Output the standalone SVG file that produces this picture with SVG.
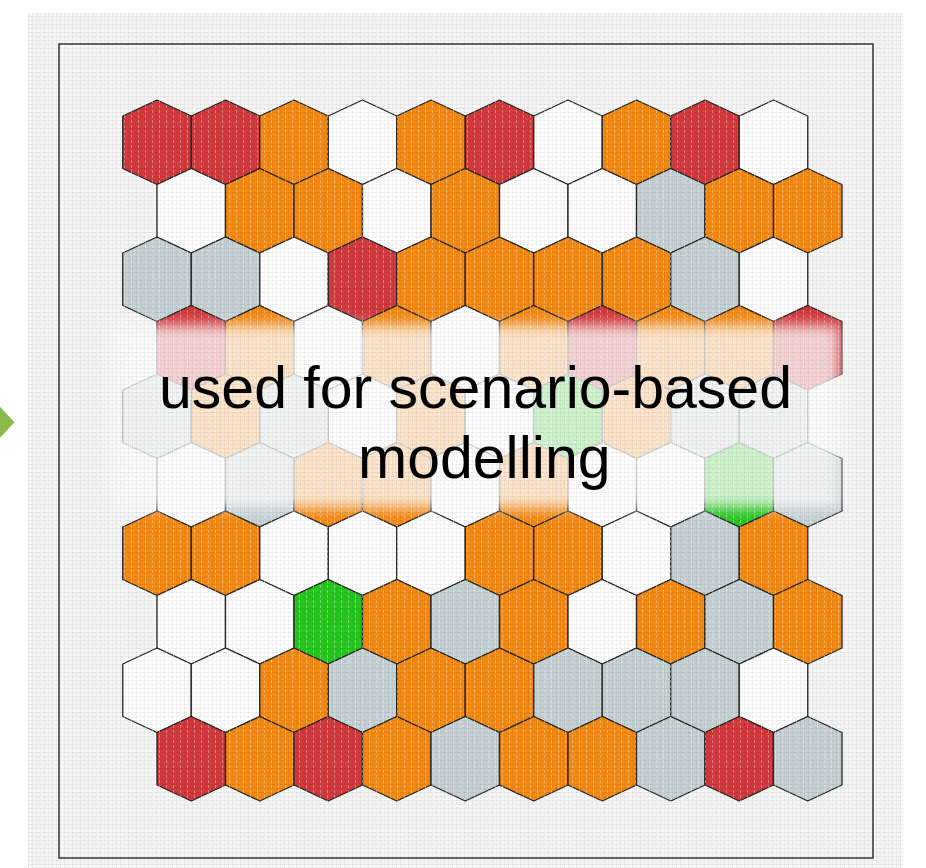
<svg xmlns="http://www.w3.org/2000/svg" xmlns:xlink="http://www.w3.org/1999/xlink" width="926" height="868" viewBox="0 0 926 868">
  <style>
    .hx { stroke: #262626; stroke-width: 1.3; stroke-linejoin: round; }
    .R { fill: #D5393D; }
    .O { fill: #F78A12; }
    .G { fill: #C7D2D4; }
    .W { fill: #FFFFFF; }
    .N { fill: #25C91E; }
    .label { font-family: "Liberation Sans", Arial, sans-serif; font-size: 59px; fill: #000000; }
  </style>
  <defs>
    <path id="h" d="M0,-42.25 L34.25,-26.25 L34.25,26.25 L0,42.25 L-34.25,26.25 L-34.25,-26.25 Z"/>
    <pattern id="linen" width="4" height="4" patternUnits="userSpaceOnUse">
      <rect x="0" y="0" width="4" height="1" fill="#000" opacity="0.05"/>
      <rect x="0" y="0" width="1" height="4" fill="#000" opacity="0.045"/>
    </pattern>
    <pattern id="linen2" width="7" height="5" patternUnits="userSpaceOnUse">
      <rect x="2" y="2" width="3" height="1" fill="#000" opacity="0.04"/>
      <rect x="5" y="0" width="1" height="3" fill="#fff" opacity="0.35"/>
    </pattern>
    <filter id="soft" x="-10%" y="-30%" width="120%" height="160%">
      <feGaussianBlur stdDeviation="7"/>
    </filter>
  </defs>

  <rect x="0" y="0" width="926" height="868" fill="#FFFFFF"/>
  <rect x="28" y="13" width="875" height="855" fill="#F6F6F6"/>

  <g id="grid">
    <g id="row0">
      <use id="h0-0" href="#h" x="157" y="142.25" class="hx R"/>
      <use id="h0-1" href="#h" x="225.5" y="142.25" class="hx R"/>
      <use id="h0-2" href="#h" x="294" y="142.25" class="hx O"/>
      <use id="h0-3" href="#h" x="362.5" y="142.25" class="hx W"/>
      <use id="h0-4" href="#h" x="431" y="142.25" class="hx O"/>
      <use id="h0-5" href="#h" x="499.5" y="142.25" class="hx R"/>
      <use id="h0-6" href="#h" x="568" y="142.25" class="hx W"/>
      <use id="h0-7" href="#h" x="636.5" y="142.25" class="hx O"/>
      <use id="h0-8" href="#h" x="705" y="142.25" class="hx R"/>
      <use id="h0-9" href="#h" x="773.5" y="142.25" class="hx W"/>
    </g>
    <g id="row1">
      <use id="h1-0" href="#h" x="191.25" y="210.75" class="hx W"/>
      <use id="h1-1" href="#h" x="259.75" y="210.75" class="hx O"/>
      <use id="h1-2" href="#h" x="328.25" y="210.75" class="hx O"/>
      <use id="h1-3" href="#h" x="396.75" y="210.75" class="hx W"/>
      <use id="h1-4" href="#h" x="465.25" y="210.75" class="hx O"/>
      <use id="h1-5" href="#h" x="533.75" y="210.75" class="hx W"/>
      <use id="h1-6" href="#h" x="602.25" y="210.75" class="hx W"/>
      <use id="h1-7" href="#h" x="670.75" y="210.75" class="hx G"/>
      <use id="h1-8" href="#h" x="739.25" y="210.75" class="hx O"/>
      <use id="h1-9" href="#h" x="807.75" y="210.75" class="hx O"/>
    </g>
    <g id="row2">
      <use id="h2-0" href="#h" x="157" y="279.25" class="hx G"/>
      <use id="h2-1" href="#h" x="225.5" y="279.25" class="hx G"/>
      <use id="h2-2" href="#h" x="294" y="279.25" class="hx W"/>
      <use id="h2-3" href="#h" x="362.5" y="279.25" class="hx R"/>
      <use id="h2-4" href="#h" x="431" y="279.25" class="hx O"/>
      <use id="h2-5" href="#h" x="499.5" y="279.25" class="hx O"/>
      <use id="h2-6" href="#h" x="568" y="279.25" class="hx O"/>
      <use id="h2-7" href="#h" x="636.5" y="279.25" class="hx O"/>
      <use id="h2-8" href="#h" x="705" y="279.25" class="hx G"/>
      <use id="h2-9" href="#h" x="773.5" y="279.25" class="hx W"/>
    </g>
    <g id="row3">
      <use id="h3-0" href="#h" x="191.25" y="347.75" class="hx R"/>
      <use id="h3-1" href="#h" x="259.75" y="347.75" class="hx O"/>
      <use id="h3-2" href="#h" x="328.25" y="347.75" class="hx W"/>
      <use id="h3-3" href="#h" x="396.75" y="347.75" class="hx O"/>
      <use id="h3-4" href="#h" x="465.25" y="347.75" class="hx W"/>
      <use id="h3-5" href="#h" x="533.75" y="347.75" class="hx O"/>
      <use id="h3-6" href="#h" x="602.25" y="347.75" class="hx R"/>
      <use id="h3-7" href="#h" x="670.75" y="347.75" class="hx O"/>
      <use id="h3-8" href="#h" x="739.25" y="347.75" class="hx O"/>
      <use id="h3-9" href="#h" x="807.75" y="347.75" class="hx R"/>
    </g>
    <g id="row4">
      <use id="h4-0" href="#h" x="157" y="416.25" class="hx G"/>
      <use id="h4-1" href="#h" x="225.5" y="416.25" class="hx O"/>
      <use id="h4-2" href="#h" x="294" y="416.25" class="hx G"/>
      <use id="h4-3" href="#h" x="362.5" y="416.25" class="hx W"/>
      <use id="h4-4" href="#h" x="431" y="416.25" class="hx O"/>
      <use id="h4-5" href="#h" x="499.5" y="416.25" class="hx W"/>
      <use id="h4-6" href="#h" x="568" y="416.25" class="hx N"/>
      <use id="h4-7" href="#h" x="636.5" y="416.25" class="hx O"/>
      <use id="h4-8" href="#h" x="705" y="416.25" class="hx G"/>
      <use id="h4-9" href="#h" x="773.5" y="416.25" class="hx G"/>
    </g>
    <g id="row5">
      <use id="h5-0" href="#h" x="191.25" y="484.75" class="hx W"/>
      <use id="h5-1" href="#h" x="259.75" y="484.75" class="hx G"/>
      <use id="h5-2" href="#h" x="328.25" y="484.75" class="hx O"/>
      <use id="h5-3" href="#h" x="396.75" y="484.75" class="hx O"/>
      <use id="h5-4" href="#h" x="465.25" y="484.75" class="hx W"/>
      <use id="h5-5" href="#h" x="533.75" y="484.75" class="hx O"/>
      <use id="h5-6" href="#h" x="602.25" y="484.75" class="hx W"/>
      <use id="h5-7" href="#h" x="670.75" y="484.75" class="hx W"/>
      <use id="h5-8" href="#h" x="739.25" y="484.75" class="hx N"/>
      <use id="h5-9" href="#h" x="807.75" y="484.75" class="hx G"/>
    </g>
    <g id="row6">
      <use id="h6-0" href="#h" x="157" y="553.25" class="hx O"/>
      <use id="h6-1" href="#h" x="225.5" y="553.25" class="hx O"/>
      <use id="h6-2" href="#h" x="294" y="553.25" class="hx W"/>
      <use id="h6-3" href="#h" x="362.5" y="553.25" class="hx W"/>
      <use id="h6-4" href="#h" x="431" y="553.25" class="hx W"/>
      <use id="h6-5" href="#h" x="499.5" y="553.25" class="hx O"/>
      <use id="h6-6" href="#h" x="568" y="553.25" class="hx O"/>
      <use id="h6-7" href="#h" x="636.5" y="553.25" class="hx W"/>
      <use id="h6-8" href="#h" x="705" y="553.25" class="hx G"/>
      <use id="h6-9" href="#h" x="773.5" y="553.25" class="hx O"/>
    </g>
    <g id="row7">
      <use id="h7-0" href="#h" x="191.25" y="621.75" class="hx W"/>
      <use id="h7-1" href="#h" x="259.75" y="621.75" class="hx W"/>
      <use id="h7-2" href="#h" x="328.25" y="621.75" class="hx N"/>
      <use id="h7-3" href="#h" x="396.75" y="621.75" class="hx O"/>
      <use id="h7-4" href="#h" x="465.25" y="621.75" class="hx G"/>
      <use id="h7-5" href="#h" x="533.75" y="621.75" class="hx O"/>
      <use id="h7-6" href="#h" x="602.25" y="621.75" class="hx W"/>
      <use id="h7-7" href="#h" x="670.75" y="621.75" class="hx O"/>
      <use id="h7-8" href="#h" x="739.25" y="621.75" class="hx G"/>
      <use id="h7-9" href="#h" x="807.75" y="621.75" class="hx O"/>
    </g>
    <g id="row8">
      <use id="h8-0" href="#h" x="157" y="690.25" class="hx W"/>
      <use id="h8-1" href="#h" x="225.5" y="690.25" class="hx W"/>
      <use id="h8-2" href="#h" x="294" y="690.25" class="hx O"/>
      <use id="h8-3" href="#h" x="362.5" y="690.25" class="hx G"/>
      <use id="h8-4" href="#h" x="431" y="690.25" class="hx O"/>
      <use id="h8-5" href="#h" x="499.5" y="690.25" class="hx O"/>
      <use id="h8-6" href="#h" x="568" y="690.25" class="hx G"/>
      <use id="h8-7" href="#h" x="636.5" y="690.25" class="hx G"/>
      <use id="h8-8" href="#h" x="705" y="690.25" class="hx G"/>
      <use id="h8-9" href="#h" x="773.5" y="690.25" class="hx W"/>
    </g>
    <g id="row9">
      <use id="h9-0" href="#h" x="191.25" y="758.75" class="hx R"/>
      <use id="h9-1" href="#h" x="259.75" y="758.75" class="hx O"/>
      <use id="h9-2" href="#h" x="328.25" y="758.75" class="hx R"/>
      <use id="h9-3" href="#h" x="396.75" y="758.75" class="hx O"/>
      <use id="h9-4" href="#h" x="465.25" y="758.75" class="hx G"/>
      <use id="h9-5" href="#h" x="533.75" y="758.75" class="hx O"/>
      <use id="h9-6" href="#h" x="602.25" y="758.75" class="hx O"/>
      <use id="h9-7" href="#h" x="670.75" y="758.75" class="hx G"/>
      <use id="h9-8" href="#h" x="739.25" y="758.75" class="hx R"/>
      <use id="h9-9" href="#h" x="807.75" y="758.75" class="hx G"/>
    </g>
  </g>

  <!-- soft white band behind the text -->
  <rect id="band" x="114" y="325" width="726" height="183" fill="#FFFFFF" opacity="0.78" filter="url(#soft)"/>

  <!-- canvas texture over background, tiles and band -->
  <rect x="28" y="13" width="875" height="855" fill="url(#linen)"/>
  <rect x="28" y="13" width="875" height="855" fill="url(#linen2)"/>

  <!-- frame -->
  <rect id="frame" x="59" y="44" width="814" height="814" fill="none" stroke="#333333" stroke-width="1.5"/>

  <g id="caption">
    <text class="label" x="159" y="408">used for scenario-based</text>
    <text class="label" x="358" y="478">modelling</text>
  </g>

  <g id="connectors">
    <polygon points="-3,403.5 14.5,422.3 -3,441" fill="#8CBA4A"/>
  </g>
</svg>
